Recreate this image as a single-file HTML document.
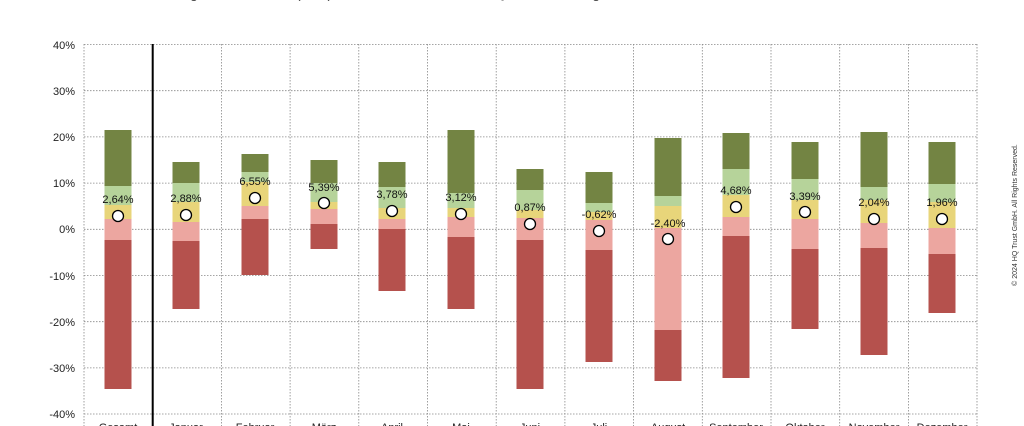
<!DOCTYPE html>
<html><head><meta charset="utf-8"><style>
html,body{margin:0;padding:0;background:#fff;}
svg{display:block;font-family:"Liberation Sans",sans-serif;}
.a{fill:#738443}.b{fill:#b6d39a}.c{fill:#e8d57a}.d{fill:#eca6a0}.e{fill:#b5514d}
</style></head><body>
<svg width="1024" height="426" viewBox="0 0 1024 426" xmlns="http://www.w3.org/2000/svg">
<rect width="1024" height="426" fill="#fff"/>
<text x="35" y="-2" font-size="14" fill="#444" textLength="565">Monatliche Renditeverteilung des MSCI World (EUR) seit 1970 im Jahresverlauf – Quelle: Bloomberg</text>
<g stroke="#888" stroke-width="0.8" stroke-dasharray="1.5,1.5">
<line x1="84" y1="44.5" x2="977" y2="44.5"/><line x1="84" y1="90.7" x2="977" y2="90.7"/><line x1="84" y1="136.9" x2="977" y2="136.9"/><line x1="84" y1="183.1" x2="977" y2="183.1"/><line x1="84" y1="229.3" x2="977" y2="229.3"/><line x1="84" y1="275.5" x2="977" y2="275.5"/><line x1="84" y1="321.7" x2="977" y2="321.7"/><line x1="84" y1="367.9" x2="977" y2="367.9"/><line x1="84" y1="414" x2="977" y2="414"/>
<line x1="84" y1="44" x2="84" y2="426"/><line x1="221.4" y1="44" x2="221.4" y2="426"/><line x1="290.1" y1="44" x2="290.1" y2="426"/><line x1="358.8" y1="44" x2="358.8" y2="426"/><line x1="427.5" y1="44" x2="427.5" y2="426"/><line x1="496.2" y1="44" x2="496.2" y2="426"/><line x1="564.9" y1="44" x2="564.9" y2="426"/><line x1="633.6" y1="44" x2="633.6" y2="426"/><line x1="702.3" y1="44" x2="702.3" y2="426"/><line x1="771" y1="44" x2="771" y2="426"/><line x1="839.7" y1="44" x2="839.7" y2="426"/><line x1="908.4" y1="44" x2="908.4" y2="426"/><line x1="977" y1="44" x2="977" y2="426"/>
</g>
<line x1="152.7" y1="44" x2="152.7" y2="426" stroke="#000" stroke-width="2"/>
<g font-size="11" fill="#222" text-anchor="end">
<text x="75" y="49">40%</text><text x="75" y="95">30%</text><text x="75" y="141">20%</text><text x="75" y="187">10%</text><text x="75" y="233">0%</text><text x="75" y="280">-10%</text><text x="75" y="326">-20%</text><text x="75" y="372">-30%</text><text x="75" y="418">-40%</text>
</g>
<g>
<rect class="a" x="104.5" y="130" width="27" height="56"/><rect class="b" x="104.5" y="186" width="27" height="19"/><rect class="c" x="104.5" y="205" width="27" height="14"/><rect class="d" x="104.5" y="219" width="27" height="21"/><rect class="e" x="104.5" y="240" width="27" height="149"/>
<rect class="a" x="172.5" y="162" width="27" height="21"/><rect class="b" x="172.5" y="183" width="27" height="19"/><rect class="c" x="172.5" y="202" width="27" height="20"/><rect class="d" x="172.5" y="222" width="27" height="19"/><rect class="e" x="172.5" y="241" width="27" height="68"/>
<rect class="a" x="241.5" y="154" width="27" height="18"/><rect class="b" x="241.5" y="172" width="27" height="10"/><rect class="c" x="241.5" y="182" width="27" height="24"/><rect class="d" x="241.5" y="206" width="27" height="13"/><rect class="e" x="241.5" y="219" width="27" height="56"/>
<rect class="a" x="310.5" y="160" width="27" height="23"/><rect class="b" x="310.5" y="183" width="27" height="19"/><rect class="c" x="310.5" y="202" width="27" height="7"/><rect class="d" x="310.5" y="209" width="27" height="15"/><rect class="e" x="310.5" y="224" width="27" height="25"/>
<rect class="a" x="378.5" y="162" width="27" height="25"/><rect class="b" x="378.5" y="187" width="27" height="21"/><rect class="c" x="378.5" y="208" width="27" height="11"/><rect class="d" x="378.5" y="219" width="27" height="10"/><rect class="e" x="378.5" y="229" width="27" height="62"/>
<rect class="a" x="447.5" y="130" width="27" height="63"/><rect class="b" x="447.5" y="193" width="27" height="15"/><rect class="c" x="447.5" y="208" width="27" height="9"/><rect class="d" x="447.5" y="217" width="27" height="20"/><rect class="e" x="447.5" y="237" width="27" height="72"/>
<rect class="a" x="516.5" y="169" width="27" height="21"/><rect class="b" x="516.5" y="190" width="27" height="20"/><rect class="c" x="516.5" y="210" width="27" height="8"/><rect class="d" x="516.5" y="218" width="27" height="22"/><rect class="e" x="516.5" y="240" width="27" height="149"/>
<rect class="a" x="585.5" y="172" width="27" height="31"/><rect class="b" x="585.5" y="203" width="27" height="9"/><rect class="c" x="585.5" y="212" width="27" height="8"/><rect class="d" x="585.5" y="220" width="27" height="30"/><rect class="e" x="585.5" y="250" width="27" height="112"/>
<rect class="a" x="654.5" y="138" width="27" height="58"/><rect class="b" x="654.5" y="196" width="27" height="10"/><rect class="c" x="654.5" y="206" width="27" height="22"/><rect class="d" x="654.5" y="228" width="27" height="102"/><rect class="e" x="654.5" y="330" width="27" height="51"/>
<rect class="a" x="722.5" y="133" width="27" height="36"/><rect class="b" x="722.5" y="169" width="27" height="26"/><rect class="c" x="722.5" y="195" width="27" height="22"/><rect class="d" x="722.5" y="217" width="27" height="19"/><rect class="e" x="722.5" y="236" width="27" height="142"/>
<rect class="a" x="791.5" y="142" width="27" height="37"/><rect class="b" x="791.5" y="179" width="27" height="21"/><rect class="c" x="791.5" y="200" width="27" height="19"/><rect class="d" x="791.5" y="219" width="27" height="30"/><rect class="e" x="791.5" y="249" width="27" height="80"/>
<rect class="a" x="860.5" y="132" width="27" height="55"/><rect class="b" x="860.5" y="187" width="27" height="13"/><rect class="c" x="860.5" y="200" width="27" height="23"/><rect class="d" x="860.5" y="223" width="27" height="25"/><rect class="e" x="860.5" y="248" width="27" height="107"/>
<rect class="a" x="928.5" y="142" width="27" height="42"/><rect class="b" x="928.5" y="184" width="27" height="18"/><rect class="c" x="928.5" y="202" width="27" height="26"/><rect class="d" x="928.5" y="228" width="27" height="26"/><rect class="e" x="928.5" y="254" width="27" height="59"/>
</g>
<g font-size="11" fill="#111" text-anchor="middle">
<text x="118" y="203">2,64%</text><text x="186" y="202">2,88%</text><text x="255" y="185">6,55%</text><text x="324" y="191">5,39%</text><text x="392" y="198">3,78%</text><text x="461" y="201">3,12%</text><text x="530" y="211">0,87%</text><text x="599" y="218">-0,62%</text><text x="668" y="227">-2,40%</text><text x="736" y="194">4,68%</text><text x="805" y="200">3,39%</text><text x="874" y="206">2,04%</text><text x="942" y="206">1,96%</text>
</g>
<g fill="#fff" stroke="#000" stroke-width="1.3">
<circle cx="118" cy="216" r="5.5"/><circle cx="186" cy="215" r="5.5"/><circle cx="255" cy="198" r="5.5"/><circle cx="324" cy="203" r="5.5"/><circle cx="392" cy="211" r="5.5"/><circle cx="461" cy="214" r="5.5"/><circle cx="530" cy="224" r="5.5"/><circle cx="599" cy="231" r="5.5"/><circle cx="668" cy="239" r="5.5"/><circle cx="736" cy="207" r="5.5"/><circle cx="805" cy="212" r="5.5"/><circle cx="874" cy="219" r="5.5"/><circle cx="942" cy="219" r="5.5"/>
</g>
<g font-size="11" fill="#222" text-anchor="middle">
<text x="118" y="431">Gesamt</text><text x="186" y="431">Januar</text><text x="255" y="431">Februar</text><text x="324" y="431">März</text><text x="392" y="431">April</text><text x="461" y="431">Mai</text><text x="530" y="431">Juni</text><text x="599" y="431">Juli</text><text x="668" y="431">August</text><text x="736" y="431">September</text><text x="805" y="431">Oktober</text><text x="874" y="431">November</text><text x="942" y="431">Dezember</text>
</g>
<text transform="translate(1017,215) rotate(-90)" font-size="7" fill="#333" text-anchor="middle">© 2024 HQ Trust GmbH. All Rights Reserved.</text>
</svg>
</body></html>
